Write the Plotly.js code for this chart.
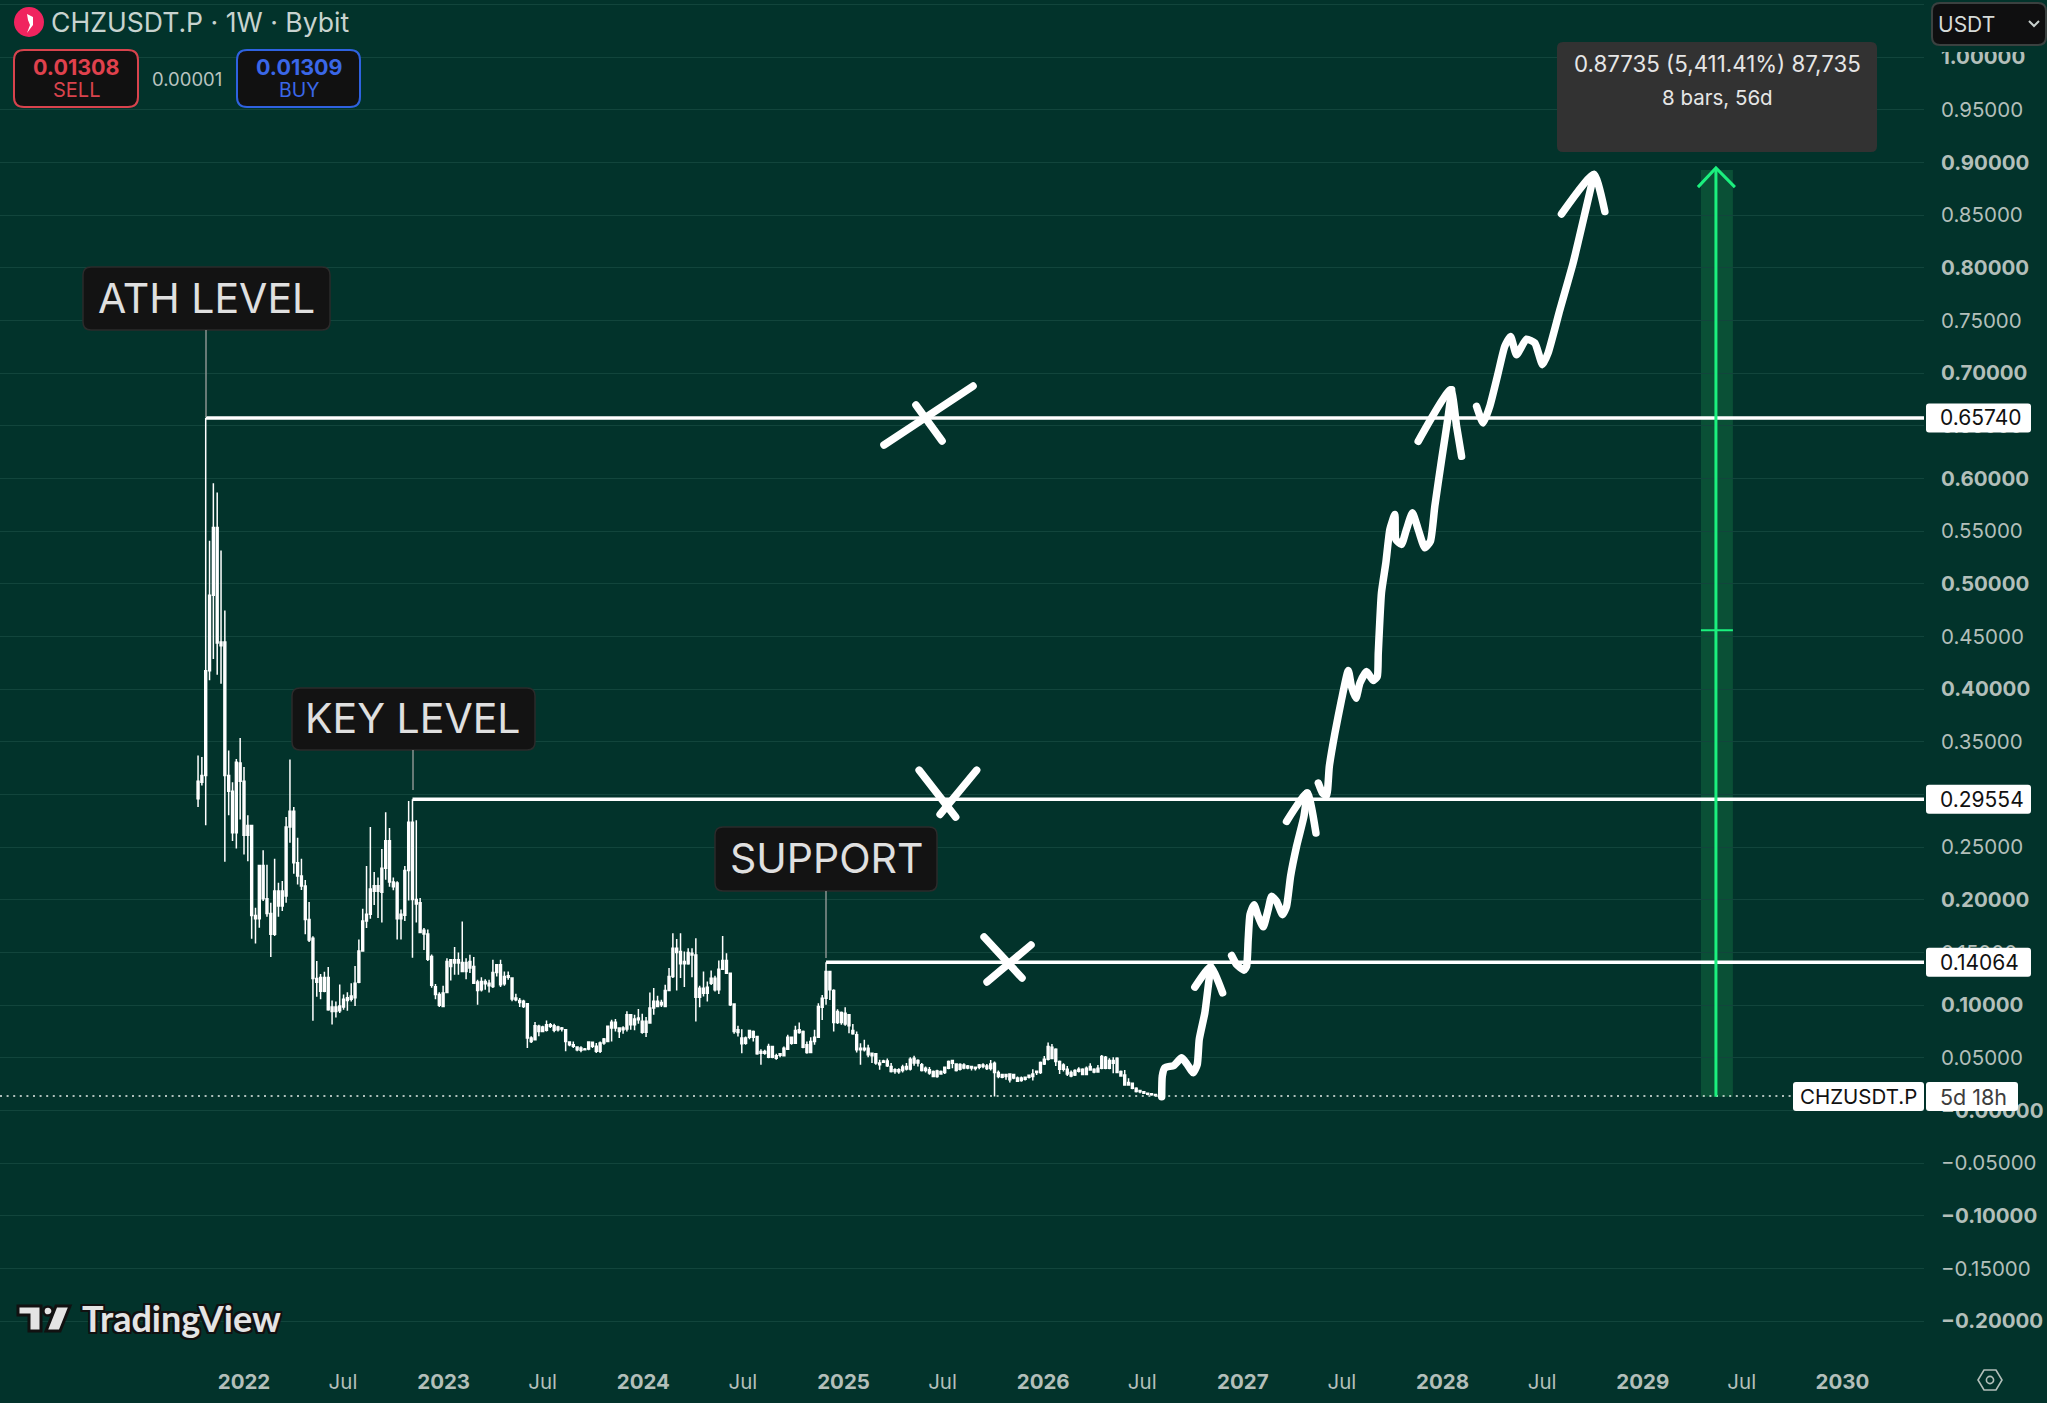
<!DOCTYPE html>
<html><head><meta charset="utf-8">
<script src="https://cdn.plot.ly/plotly-3.0.1.min.js"></script>
<style>
html,body{margin:0;padding:0;background:#02332b;overflow:hidden}
#chart{width:2047px;height:1403px}
path.js-line[style*="stroke-width: 7.5px"]{stroke-linecap:round}
</style></head><body><div id="chart"></div>
<script>
const firstWeek = '2021-10-09';
const high = [
.3369,.3356,.6574,.5407,.5954,.5865,.5315,.4746,.3416,.3116,
.3337,.3536,.3261,.2803,.2705,.1925,.2326,.2471,.2332,.1972,
.2389,.2162,.2178,.2787,.3331,.2882,.2588,.2389,.2187,.1978,
.1654,.1418,.1296,.1318,.1362,.1044,.1035,.1196,.1101,.1122,
.1209,.1371,.1623,.1915,.2321,.2691,.2264,.2212,.2482,.2831,
.2682,.2212,.2177,.1907,.2321,.2939,.29554,.2756,.2016,.1732,
.1719,.1480,.1201,.1122,.1184,.1446,.1437,.1551,.1500,.1794,
.1446,.1478,.1456,.1241,.1266,.1247,.1241,.1431,.1383,.1431,
.1320,.1320,.1257,.1108,.1067,.1051,.1013,.0704,.0840,.0814,
.0805,.0855,.0830,.0824,.0805,.0792,.0773,.0656,.0656,.0609,
.0609,.0593,.0656,.0656,.0641,.0656,.0688,.0805,.0862,.0868,
.0783,.0799,.0941,.0915,.0909,.0963,.0919,.0887,.1121,.1162,
.1089,.1051,.1194,.1352,.1683,.1627,.1683,.1510,.1541,.1540,
.1635,.1183,.1319,.1224,.1328,.1278,.1423,.1657,.1492,.1309,
.1018,.0804,.0772,.0702,.0759,.0759,.0709,.0582,.0576,.0633,
.0614,.0538,.0544,.0608,.0718,.0702,.0804,.0835,.0759,.0655,
.0696,.0766,.1018,.1097,.14064,.1319,.1151,.0962,.0939,.0980,
.0908,.0822,.0750,.0639,.0671,.0623,.0551,.0544,.0481,.0481,
.0494,.0450,.0402,.0402,.0434,.0450,.0506,.0519,.0487,.0450,
.0418,.0412,.0380,.0386,.0379,.0417,.0474,.0480,.0449,.0449,
.0449,.0433,.0423,.0417,.0442,.0449,.0442,.0480,.0464,.0379,
.0347,.0347,.0354,.0347,.0322,.0322,.0322,.0341,.0392,.0379,
.0464,.0518,.0645,.0632,.0591,.0474,.0449,.0423,.0379,.0392,
.0411,.0401,.0417,.0449,.0401,.0433,.0528,.0518,.0496,.0505,
.0505,.0379,.0385,.0306,.0265,.0221,.0196,.0183,.0171,.0164,.0155,.0149];
const low = [
.2882,.3084,.2708,.4083,.4285,.4137,.4051,.2361,.2803,.2557,
.2487,.2762,.2430,.2367,.1631,.1586,.1735,.1988,.1839,.1457,
.1656,.1839,.1893,.1972,.2541,.2247,.2146,.2092,.1672,.1599,
.0852,.1079,.1057,.1122,.0948,.0817,.0882,.0926,.0957,.0948,
.1035,.0991,.1209,.1514,.1732,.1820,.1950,.1828,.1785,.2190,
.2125,.2090,.1623,.1623,.1798,.1994,.1449,.1785,.1689,.1523,
.1418,.1166,.1057,.0983,.0988,.1115,.1235,.1288,.1288,.1320,
.1247,.1304,.1203,.1004,.1130,.1146,.1121,.1162,.1273,.1172,
.1184,.1241,.1036,.1036,.0982,.0972,.0593,.0641,.0666,.0704,
.0742,.0751,.0783,.0742,.0751,.0751,.0562,.0609,.0593,.0562,
.0552,.0571,.0571,.0593,.0546,.0546,.0625,.0656,.0656,.0751,
.0688,.0729,.0751,.0767,.0761,.0824,.0729,.0698,.0824,.0909,
.0982,.0982,.0982,.1140,.1257,.1140,.1257,.1172,.1383,.1265,
.0845,.0980,.1082,.1034,.1192,.1129,.1107,.1334,.1296,.0993,
.0728,.0702,.0544,.0623,.0677,.0655,.0529,.0434,.0529,.0497,
.0497,.0481,.0506,.0513,.0576,.0623,.0633,.0728,.0592,.0538,
.0544,.0623,.0696,.0860,.1003,.1050,.0750,.0822,.0813,.0804,
.0734,.0718,.0551,.0434,.0560,.0506,.0450,.0434,.0386,.0450,
.0412,.0361,.0348,.0348,.0361,.0380,.0380,.0424,.0418,.0371,
.0361,.0339,.0317,.0311,.0341,.0347,.0392,.0401,.0370,.0379,
.0392,.0392,.0379,.0379,.0392,.0401,.0385,.0379,.0133,.0306,
.0306,.0291,.0265,.0297,.0272,.0272,.0284,.0303,.0284,.0338,
.0347,.0433,.0474,.0487,.0423,.0347,.0370,.0328,.0316,.0328,
.0360,.0335,.0341,.0379,.0354,.0360,.0392,.0392,.0392,.0354,
.0354,.0322,.0234,.0234,.0202,.0171,.0164,.0158,.0145,.0139,.0133,.0126];
const close = [
.3125,.3179,.4175,.4892,.5533,.5533,.4446,.4446,.3179,.3031,
.3306,.3299,.3125,.2705,.2705,.1852,.2326,.2326,.2010,.1871,
.2083,.2083,.2083,.2692,.2841,.2841,.2351,.2225,.2130,.1814,
.1636,.1253,.1262,.1262,.1262,.0983,.0983,.0991,.1057,.1070,
.1087,.1209,.1514,.1798,.1863,.2103,.2133,.2133,.2299,.2560,
.2560,.2168,.2159,.1863,.2277,.2735,.2735,.2003,.1972,.1711,
.1676,.1462,.1174,.1100,.1115,.1415,.1431,.1431,.1431,.1405,
.1405,.1415,.1367,.1219,.1225,.1225,.1209,.1311,.1383,.1383,
.1273,.1279,.1257,.1067,.1045,.1036,.1013,.0688,.0805,.0799,
.0792,.0814,.0814,.0805,.0792,.0783,.0767,.0650,.0625,.0603,
.0593,.0584,.0650,.0647,.0609,.0641,.0679,.0799,.0837,.0837,
.0783,.0783,.0909,.0909,.0868,.0878,.0846,.0846,.0972,.1036,
.1036,.1026,.1140,.1273,.1541,.1541,.1510,.1415,.1500,.1492,
.1477,.1161,.1161,.1170,.1255,.1255,.1341,.1423,.1423,.1303,
.1012,.0766,.0687,.0687,.0759,.0750,.0702,.0560,.0560,.0608,
.0608,.0519,.0538,.0592,.0696,.0696,.0759,.0766,.0750,.0623,
.0655,.0696,.0987,.1066,.1319,.1319,.1138,.0939,.0930,.0924,
.0908,.0759,.0718,.0592,.0592,.0592,.0544,.0538,.0450,.0469,
.0469,.0418,.0386,.0386,.0412,.0418,.0487,.0497,.0475,.0434,
.0402,.0386,.0371,.0374,.0370,.0411,.0464,.0474,.0442,.0436,
.0433,.0423,.0417,.0411,.0433,.0433,.0423,.0442,.0449,.0360,
.0341,.0341,.0347,.0341,.0309,.0309,.0316,.0335,.0347,.0373,
.0455,.0487,.0607,.0600,.0581,.0464,.0433,.0392,.0360,.0379,
.0392,.0392,.0401,.0417,.0392,.0401,.0512,.0505,.0474,.0474,
.0496,.0370,.0338,.0265,.0259,.0212,.0189,.0177,.0164,.0158,.0152,.0145];
const open = [
.2958,.3116,.3179,.4175,.4892,.4437,.4412,.3179,.3031,.2636,
.2636,.3125,.2613,.2613,.1852,.1820,.1820,.2010,.1871,.1672,
.1672,.1940,.1940,.2035,.2692,.2351,.2225,.2130,.1814,.1618,
.1253,.1218,.1131,.1131,.0957,.0939,.0939,.0948,.0983,.1044,
.1057,.1070,.1218,.1514,.1798,.1863,.2081,.2081,.2072,.2299,
.2168,.2125,.1820,.1820,.1854,.2277,.2003,.1959,.1689,.1676,
.1436,.1188,.1100,.0999,.0988,.1121,.1367,.1399,.1399,.1320,
.1320,.1352,.1209,.1140,.1146,.1203,.1184,.1178,.1311,.1194,
.1203,.1266,.1058,.1051,.1026,.0988,.0688,.0656,.0672,.0751,
.0751,.0761,.0799,.0761,.0767,.0773,.0656,.0625,.0609,.0577,
.0571,.0577,.0584,.0609,.0562,.0562,.0641,.0656,.0783,.0783,
.0751,.0767,.0773,.0814,.0814,.0862,.0742,.0742,.0830,.0972,
.0988,.1004,.0988,.1140,.1273,.1500,.1393,.1393,.1393,.1477,
.1075,.1075,.1113,.1113,.1208,.1145,.1145,.1341,.1303,.1003,
.0750,.0740,.0633,.0639,.0696,.0696,.0538,.0544,.0544,.0506,
.0506,.0497,.0525,.0519,.0582,.0639,.0639,.0740,.0601,.0551,
.0551,.0655,.0696,.0980,.1066,.1145,.0835,.0835,.0835,.0822,
.0804,.0728,.0576,.0576,.0576,.0529,.0519,.0450,.0434,.0459,
.0424,.0371,.0371,.0367,.0380,.0393,.0393,.0450,.0450,.0380,
.0380,.0355,.0323,.0323,.0347,.0360,.0401,.0449,.0379,.0392,
.0404,.0404,.0404,.0398,.0411,.0417,.0398,.0398,.0360,.0322,
.0316,.0322,.0291,.0309,.0278,.0284,.0297,.0316,.0322,.0360,
.0360,.0442,.0487,.0493,.0464,.0392,.0392,.0347,.0328,.0338,
.0373,.0341,.0341,.0385,.0366,.0366,.0401,.0401,.0401,.0449,
.0360,.0328,.0243,.0243,.0212,.0180,.0177,.0164,.0155,.0149,.0142,.0136];

const levels = [0.65740, 0.29554, 0.14064];
const levelLabels = ['0.65740', '0.29554', '0.14064'];
const levelStartWeek = [2, 56, 164];
const levelNames = ['ATH LEVEL', 'KEY LEVEL', 'SUPPORT'];
const currentPrice = 0.0138;

const priceTicks = [1.05,1,.95,.9,.85,.8,.75,.7,.65,.6,.55,.5,.45,.4,.35,.3,.25,.2,.15,.1,.05,0,-.05,-.1,-.15,-.2];
const priceLabels = ['','<b>1.00000</b>','0.95000','<b>0.90000</b>','0.85000','<b>0.80000</b>','0.75000','<b>0.70000</b>','0.65000','<b>0.60000</b>','0.55000','<b>0.50000</b>','0.45000','<b>0.40000</b>','0.35000','<b>0.30000</b>','0.25000','<b>0.20000</b>','0.15000','<b>0.10000</b>','0.05000','<b>−0.00000</b>','−0.05000','<b>−0.10000</b>','−0.15000','<b>−0.20000</b>'];
const timeTicks = ['2022-01-01','2022-07-01','2023-01-01','2023-07-01','2024-01-01','2024-07-01','2025-01-01','2025-07-01','2026-01-01','2026-07-01','2027-01-01','2027-07-01','2028-01-01','2028-07-01','2029-01-01','2029-07-01','2030-01-01'];
const timeLabels = ['<b>2022</b>','Jul','<b>2023</b>','Jul','<b>2024</b>','Jul','<b>2025</b>','Jul','<b>2026</b>','Jul','<b>2027</b>','Jul','<b>2028</b>','Jul','<b>2029</b>','Jul','<b>2030</b>'];

// hand-drawn strokes: fractional year, price
const stroke1Year = [2026.593,2026.596,2026.609,2026.654,2026.693,2026.721,2026.751,2026.771,2026.781,2026.809,2026.826,2026.838];
const stroke1Price = [.0131,.0327,.0406,.0428,.0500,.0437,.0358,.0437,.0674,.0927,.1180,.1363];
const head1Year = [2026.759,2026.838,2026.898];
const head1Price = [.1171,.1363,.1117];
const stroke2Year = [2026.943,2026.968,2027.005,2027.018,2027.026,2027.035,2027.055,2027.076,2027.101,2027.126,2027.143,2027.168,2027.198,2027.218,2027.238,2027.268,2027.305,2027.321];
const stroke2Price = [.1471,.1385,.1332,.1370,.1622,.1859,.1954,.1844,.1743,.1907,.2033,.1986,.1859,.1938,.2223,.2507,.2792,.3013];
const head2Year = [2027.218,2027.321,2027.365];
const head2Price = [.2744,.3013,.2634];
const stroke3Year = [2027.377,2027.398,2027.418,2027.432,2027.460,2027.493,2027.527,2027.543,2027.565,2027.585,2027.618,2027.652,2027.672,2027.677,2027.693,2027.715,2027.735,2027.760,2027.765,2027.793,2027.818,2027.848,2027.877,2027.910,2027.938,2027.960,2027.994,2028.027,2028.044];
const stroke3Price = [.3108,.3013,.2988,.3266,.3582,.3898,.4176,.4024,.3913,.4056,.4166,.4081,.4119,.4340,.4914,.5199,.5515,.5657,.5420,.5373,.5515,.5673,.5515,.5341,.5404,.5736,.6178,.6589,.6842];
const head3Year = [2027.877,2028.039,2028.069,2028.094];
const head3Price = [.6352,.6842,.6494,.6210];
const stroke4Year = [2028.169,2028.202,2028.235,2028.277,2028.310,2028.339,2028.369,2028.419,2028.461,2028.499,2028.527,2028.586,2028.652,2028.719,2028.756];
const stroke4Price = [.6684,.6526,.6684,.7000,.7253,.7348,.7174,.7322,.7284,.7079,.7190,.7600,.8043,.8580,.8880];
const head4Year = [2028.594,2028.756,2028.811];
const head4Price = [.8510,.8887,.8533];
const crossYears = [[2025.203,2025.649],[2025.363,2025.494],[2025.379,2025.562],[2025.667,2025.484],[2025.704,2025.894],[2025.939,2025.719]];
const crossPrices = [[.6317,.6877],[.6697,.6355],[.3231,.2785],[.3231,.2810],[.1647,.1258],[.1571,.1220]];

// measure tool
const measureYear = 2029.367, measureBandYears = [2029.292,2029.452], measureWingYears = [2029.277,2029.462];
const measureBase = 0.01308, measureTop = 0.8947, measureWing = 0.8765, measureMid = 0.4558;

const W = 2047, H = 1403, PW = 1924, PH = 1360;
const X = p => p / PW, Y = p => 1 - p / PH;
const iso = y => new Date(Date.UTC(2022,0,1) + (y-2022)*365.25*864e5).toISOString().slice(0,19).replace('T',' ');
const isos = a => a.map(iso);
const rangeStart = iso(2022 - 244/199.8), rangeEnd = iso(2022 + (PW-244)/199.8);
const dates = high.map((_, i) => new Date(Date.parse(firstWeek) + i*7*864e5).toISOString().slice(0,10));

const BG = '#02332b';
const white = '#ffffff', green = '#1bf07e', text = '#b3bfba';
const line = (x, y, color, width, extra) => Object.assign({type:'scatter', mode:'lines', x, y, hoverinfo:'skip', showlegend:false, line:Object.assign({color, width}, extra||{})}, {});
const drawn = (xs, ys) => line(isos(xs), ys, white, 7.5, {shape:'spline', smoothing:0.5});

const data = [
  {type:'candlestick', x:dates, open, high, low, close, hoverinfo:'skip', showlegend:false, whiskerwidth:0,
   increasing:{line:{color:white,width:1.5}, fillcolor:white},
   decreasing:{line:{color:white,width:1.5}, fillcolor:white}},
  line([rangeStart, rangeEnd], [currentPrice, currentPrice], '#e8eeeb', 1.5, {dash:'2px,4.6px'}),
];
levels.forEach((v,i) => {
  data.push(line([dates[levelStartWeek[i]], rangeEnd], [v, v], white, 3.5));
});
crossYears.forEach((xs,i) => data.push(drawn(xs, crossPrices[i])));
[[stroke1Year,stroke1Price],[head1Year,head1Price],[stroke2Year,stroke2Price],[head2Year,head2Price],
 [stroke3Year,stroke3Price],[head3Year,head3Price],[stroke4Year,stroke4Price],[head4Year,head4Price]]
 .forEach(s => data.push(drawn(s[0], s[1])));
data.push(line(isos([measureYear,measureYear]), [measureBase,measureTop], green, 3));
data.push(line(isos([measureWingYears[0],measureYear,measureWingYears[1]]), [measureWing,measureTop,measureWing], green, 3));
data.push(line(isos(measureBandYears), [measureMid,measureMid], green, 2));

function rr(x0,y0,x1,y1,r,fill,stroke,lw){
  const cx=v=>X(v).toFixed(6), cy=v=>Y(v).toFixed(6);
  const path = `M${cx(x0+r)},${cy(y0)} L${cx(x1-r)},${cy(y0)} Q${cx(x1)},${cy(y0)} ${cx(x1)},${cy(y0+r)} L${cx(x1)},${cy(y1-r)} Q${cx(x1)},${cy(y1)} ${cx(x1-r)},${cy(y1)} L${cx(x0+r)},${cy(y1)} Q${cx(x0)},${cy(y1)} ${cx(x0)},${cy(y1-r)} L${cx(x0)},${cy(y0+r)} Q${cx(x0)},${cy(y0)} ${cx(x0+r)},${cy(y0)} Z`;
  return {type:'path', xref:'paper', yref:'paper', layer:'above', path, fillcolor:fill, line:{color:stroke||fill, width:lw===undefined?1:lw}};
}
const poly = (pts, fill, stroke, lw, closed) => ({type:'path', xref:'paper', yref:'paper', layer:'above',
  path:'M'+pts.map(p=>X(p[0]).toFixed(6)+','+Y(p[1]).toFixed(6)).join(' L')+(closed===false?'':' Z'),
  fillcolor:fill||'rgba(0,0,0,0)', line:{color:stroke||'rgba(0,0,0,0)', width:lw||0}});
const disc = (cx,cy,r,fill,stroke,lw) => ({type:'circle', xref:'paper', yref:'paper', layer:'above', x0:X(cx-r), x1:X(cx+r), y0:Y(cy+r), y1:Y(cy-r), fillcolor:fill, line:{color:stroke||fill, width:lw||0}});
const seg = (x0,y0,x1,y1,c,w) => ({type:'line', xref:'paper', yref:'paper', layer:'above', x0:X(x0), x1:X(x1), y0:Y(y0), y1:Y(y1), line:{color:c, width:w}});

const F = 'Inter, "Noto Sans", sans-serif';
const note = (px,py,t,size,color,anchor,extra) => Object.assign({xref:'paper', yref:'paper', x:X(px), y:Y(py), text:t, showarrow:false,
  xanchor:anchor||'left', yanchor:'middle', font:{family:F, size, color}, borderpad:0, borderwidth:0}, extra||{});

const shapes = [
  {type:'rect', xref:'x', yref:'y', layer:'below', x0:iso(measureBandYears[0]), x1:iso(measureBandYears[1]), y0:measureBase, y1:measureTop-0.002, fillcolor:'#0a5036', line:{width:0}},
  // header
  disc(29,22,15,'#f0245f'),
  poly([[27,14],[33,17],[33,25],[27,33],[30,25],[28,20]],'#ffffff'),
  rr(14,50,138,107,10,'#111111','#d8434d',2),
  rr(237,50,360,107,10,'#111111','#2f62e0',2),
  // mask that cuts the top of the first price label
  {type:'rect', xref:'paper', yref:'paper', layer:'above', x0:X(1930), x1:X(2047), y0:Y(52), y1:Y(40), fillcolor:BG, line:{width:0}},
  rr(1932,3,2046,45,8,'#0f0f10','#3b4140',2),
  poly([[2029,21],[2034,26],[2039,21]],null,'#c8d0cd',2,false),
  // tooltip
  rr(1557,42,1877,152,6,'#323232','#323232',0),
  // label boxes
  rr(83,267,330,330,8,'#131313','#2b2b2b',1.5),
  rr(292,688,535,750,8,'#131313','#2b2b2b',1.5),
  rr(715,827,937,891,8,'#131313','#2b2b2b',1.5),
  seg(206,330,206,417,'#8a9390',1.5),
  seg(413,750,413,790,'#8a9390',1.5),
  seg(826,891,826,958,'#8a9390',1.5),
];
const tagY = v => 1110.5 - v*1053.5;
levels.forEach(v => shapes.push(rr(1926,tagY(v)-14.5,2031,tagY(v)+14.5,3,'#ffffff','#ffffff',0)));
shapes.push(rr(1793,1082,1924,1111,3,'#ffffff','#ffffff',0));
shapes.push(rr(1926,1082,2018,1111,3,'#ffffff','#ffffff',0));
// settings icon
shapes.push(poly([[1978,1380],[1984,1370],[1996,1370],[2002,1380],[1996,1390],[1984,1390]],null,'#b3bfba',1.6));
shapes.push(disc(1990,1380,3.6,'rgba(0,0,0,0)','#b3bfba',1.6));
// TradingView logo
shapes.push(poly([[18,1306],[41,1306],[41,1331],[29,1331],[29,1315],[18,1315]],'#e4e4e4','#111111',3));
shapes.push(disc(48,1311,4.6,'#e4e4e4','#111111',2.5));
shapes.push(poly([[56,1306],[70,1306],[60,1331],[46,1331]],'#e4e4e4','#111111',3));

const annotations = [
  note(51,22,'CHZUSDT.P · 1W · Bybit',26.6,'#c8d3cf'),
  note(76,67,'<b>0.01308</b>',21.5,'#e0414d','center'),
  note(76,90,'SELL',20,'#d8434d','center'),
  note(187,78.5,'0.00001',18.5,'#b9c4c0','center'),
  note(299,67,'<b>0.01309</b>',21.5,'#3a67e8','center'),
  note(299,90,'BUY',19.5,'#3a67e8','center'),
  note(1938,24,'USDT',21,'#d6dbd9'),
  note(1717,63,'0.87735 (5,411.41%) 87,735',22.3,'#e6e6e6','center'),
  note(1717,98,'8 bars, 56d',20.5,'#e6e6e6','center'),
  note(206,298,levelNames[0],41,'#e0e0e0','center'),
  note(413,718,levelNames[1],41,'#e0e0e0','center'),
  note(826,858,levelNames[2],41,'#e0e0e0','center'),
  note(1858,1096,'CHZUSDT.P',20.5,'#111111','center'),
  note(1940,1097,'5d 18h',21.5,'#3d3d3d','left'),
  {xref:'paper',yref:'paper',x:X(80),y:Y(1318),text:'<b>TradingView</b>',showarrow:false,xanchor:'left',yanchor:'middle',
   font:{family:'Lato, Inter, sans-serif',size:36,weight:900,color:'#e4e4e4',shadow:'-2px 0 #111,2px 0 #111,0 -2px #111,0 2px #111,-2px -2px #111,2px 2px #111,-2px 2px #111,2px -2px #111'}},
];
levels.forEach((v,i) => annotations.push(note(1940,tagY(v),levelLabels[i],21,'#111111')));

const layout = {
  width:W, height:H, paper_bgcolor:BG, plot_bgcolor:BG,
  margin:{l:0,r:W-PW,t:0,b:H-PH,pad:0}, showlegend:false, hovermode:false, dragmode:false,
  font:{family:F,color:text,size:20},
  xaxis:{type:'date', range:[rangeStart,rangeEnd], tickmode:'array', tickvals:timeTicks, ticktext:timeLabels, showgrid:false, zeroline:false, showline:false, ticklen:0, ticklabelstandoff:7, tickfont:{family:F,size:20.5,color:text}, rangeslider:{visible:false}, automargin:false, ticklabelmode:'instant'},
  yaxis:{side:'right', range:[(1110.5-PH)/1053.5, 1110.5/1053.5], tickmode:'array', tickvals:priceTicks, ticktext:priceLabels, showgrid:true, gridcolor:'#12453c', gridwidth:1, zeroline:false, showline:false, ticklen:0, ticklabelstandoff:16, tickfont:{family:F,size:20.5,color:text}, automargin:false},
  shapes, annotations,
};
Plotly.newPlot('chart', data, layout, {displayModeBar:false, staticPlot:true});
</script></body></html>
